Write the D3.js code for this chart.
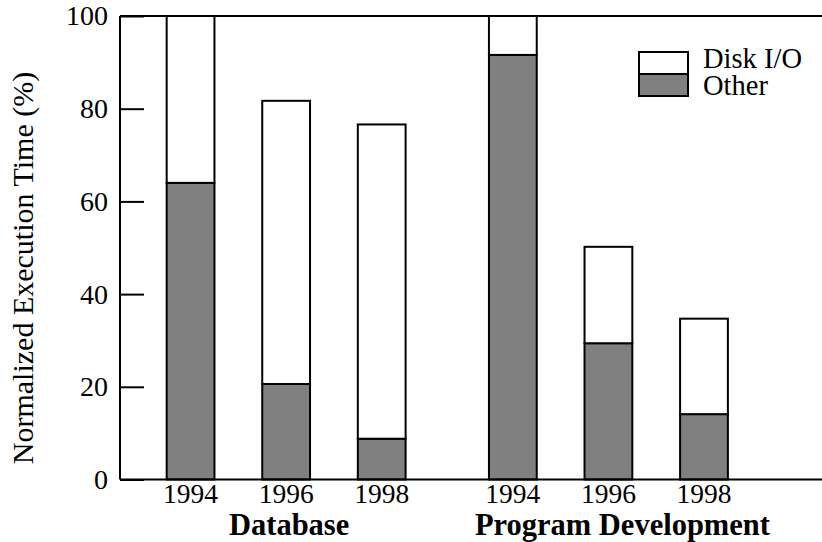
<!DOCTYPE html>
<html>
<head>
<meta charset="utf-8">
<script src="https://cdn.jsdelivr.net/npm/d3@7"></script>
<style>
  body { margin: 0; background: #fff; }
  text { font-family: "Liberation Serif", "Times New Roman", serif; }
</style>
</head>
<body>
<svg id="chart" width="822" height="542"></svg>
<script>
var groups = ["Database", "Program Development"];
var years = ["1994", "1996", "1998"];
var keys = ["Other", "Disk I/O"];
// values (percent of 1994 time)
var otherDb = [64, 20.6, 8.8];
var diskDb = [36, 61.1, 67.8];
var otherPd = [91.6, 29.4, 14.1];
var diskPd = [8.4, 20.8, 20.6];
var yTicks = [0, 20, 40, 60, 80, 100];

var data = [];
years.forEach(function(y, i) {
  data.push({group: groups[0], year: y, "Other": otherDb[i], "Disk I/O": diskDb[i]});
});
years.forEach(function(y, i) {
  data.push({group: groups[1], year: y, "Other": otherPd[i], "Disk I/O": diskPd[i]});
});

var svg = d3.select("#chart"),
    margin = {top: 16, right: 0, bottom: 62, left: 120},
    width = +svg.attr("width") - margin.left - margin.right,
    height = 479.5 - margin.top,
    g = svg.append("g").attr("transform", "translate(" + margin.left + "," + margin.top + ")");

var x0 = d3.scaleBand()
    .domain(groups)
    .range([0, 690])
    .paddingInner(0)
    .paddingOuter(0.0705)
    .align(0.11);

var x1 = d3.scaleBand()
    .domain(years)
    .range([0, x0.bandwidth()])
    .paddingInner(0.5)
    .paddingOuter(0.436);

var y = d3.scaleLinear()
    .domain([0, 100])
    .range([height, 0]);

var z = d3.scaleOrdinal()
    .domain(keys)
    .range(["#808080", "#ffffff"]);

// bars
g.append("g")
  .selectAll("g")
  .data(d3.stack().keys(keys)(data))
  .enter().append("g")
    .attr("fill", function(d) { return z(d.key); })
  .selectAll("rect")
  .data(function(d) { return d; })
  .enter().append("rect")
    .attr("x", function(d) { return x0(d.data.group) + x1(d.data.year); })
    .attr("y", function(d) { return y(d[1]); })
    .attr("height", function(d) { return y(d[0]) - y(d[1]); })
    .attr("width", x1.bandwidth())
    .attr("stroke", "#000")
    .attr("stroke-width", 2);

// frame: left, top, bottom
g.append("line").attr("x1", 0).attr("x2", 0).attr("y1", 0).attr("y2", height)
  .attr("stroke", "#000").attr("stroke-width", 2);
g.append("line").attr("x1", 0).attr("x2", width).attr("y1", 0).attr("y2", 0)
  .attr("stroke", "#000").attr("stroke-width", 2);
g.append("line").attr("x1", 0).attr("x2", width).attr("y1", height).attr("y2", height)
  .attr("stroke", "#000").attr("stroke-width", 2);

// y axis, ticks point inward
var yAxis = g.append("g")
    .call(d3.axisRight(y).tickValues(yTicks).tickSize(24).tickFormat(d3.format("d")));
yAxis.select(".domain").remove();
yAxis.selectAll(".tick line").attr("stroke", "#000").attr("stroke-width", 2);
yAxis.selectAll(".tick text")
    .attr("x", -12)
    .attr("text-anchor", "end")
    .attr("font-size", 28)
    .attr("font-family", "Liberation Serif")
    .attr("fill", "#000");

// year labels
g.append("g")
  .selectAll("text")
  .data(data)
  .enter().append("text")
    .attr("x", function(d) { return x0(d.group) + x1(d.year) + x1.bandwidth() / 2; })
    .attr("y", height + 23)
    .attr("text-anchor", "middle")
    .attr("font-size", 27.5)
    .text(function(d) { return d.year; });

// group labels
g.append("g")
  .selectAll("text")
  .data(groups)
  .enter().append("text")
    .attr("x", function(d) { return x0(d) + x0.bandwidth() / 2; })
    .attr("dx", function(d, i) { return i ? 14 : 3; })
    .attr("y", height + 55)
    .attr("text-anchor", "middle")
    .attr("font-size", 30.5)
    .attr("font-weight", "bold")
    .text(function(d) { return d; });

// y label
svg.append("text")
    .attr("transform", "translate(33," + 268 + ") rotate(-90)")
    .attr("text-anchor", "middle")
    .attr("font-size", 30)
    .text("Normalized Execution Time (%)");

// legend
var legend = svg.append("g")
    .selectAll("g")
    .data(keys.slice().reverse())
    .enter().append("g")
      .attr("transform", function(d, i) { return "translate(639," + (52 + i * 22) + ")"; });

legend.append("rect")
    .attr("width", 49)
    .attr("height", 22)
    .attr("fill", z)
    .attr("stroke", "#000")
    .attr("stroke-width", 2);

legend.append("text")
    .attr("x", 64)
    .attr("y", function(d, i) { return 16 + i * 5; })
    .attr("font-size", 28.5)
    .text(function(d) { return d; });
</script>
</body>
</html>
